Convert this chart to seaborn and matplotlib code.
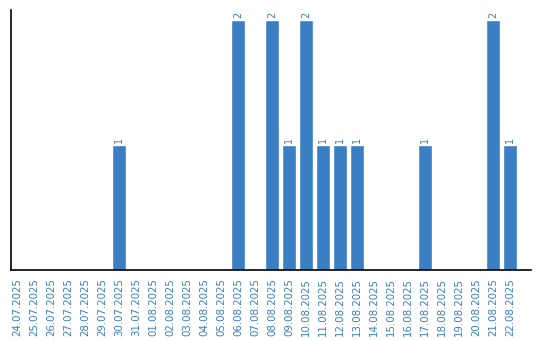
import matplotlib
matplotlib.use("Agg")
import matplotlib.pyplot as plt
import seaborn as sns
import pandas as pd

dates = ["24.07.2025", "25.07.2025", "26.07.2025", "27.07.2025", "28.07.2025",
         "29.07.2025", "30.07.2025", "31.07.2025", "01.08.2025", "02.08.2025",
         "03.08.2025", "04.08.2025", "05.08.2025", "06.08.2025", "07.08.2025",
         "08.08.2025", "09.08.2025", "10.08.2025", "11.08.2025", "12.08.2025",
         "13.08.2025", "14.08.2025", "15.08.2025", "16.08.2025", "17.08.2025",
         "18.08.2025", "19.08.2025", "20.08.2025", "21.08.2025", "22.08.2025"]
counts = [0, 0, 0, 0, 0, 0, 1, 0, 0, 0, 0, 0, 0, 2, 0,
          2, 1, 2, 1, 1, 1, 0, 0, 0, 1, 0, 0, 0, 2, 1]

color = "#3a7fc4"
df = pd.DataFrame({"date": dates, "count": counts})

sns.set_style("white")
fig = plt.figure(figsize=(5.4, 3.4), dpi=100)
ax = fig.add_axes([10.5/540, 70/340, 520/540, 260/340])
sns.barplot(data=df, x="date", y="count", color=color, width=0.82,
            saturation=1, ax=ax)
ax.set_ylim(0, 2.08)
ax.set_xlim(-0.38, 30.2)
ax.set_xlabel("")
ax.set_ylabel("")
ax.set_yticks([])
ax.tick_params(axis="x", length=0, pad=6, labelsize=7.4, labelcolor=color,
               labelrotation=90)
for s in ["top", "right"]:
    ax.spines[s].set_visible(False)
for s in ["left", "bottom"]:
    ax.spines[s].set_color("black")
    ax.spines[s].set_linewidth(1.2)

for i, v in enumerate(counts):
    if v > 0:
        ax.text(i, v + 0.02, str(v), rotation=90, ha="center", va="bottom",
                fontsize=7, color=color)

fig.savefig("out.png", dpi=100)
